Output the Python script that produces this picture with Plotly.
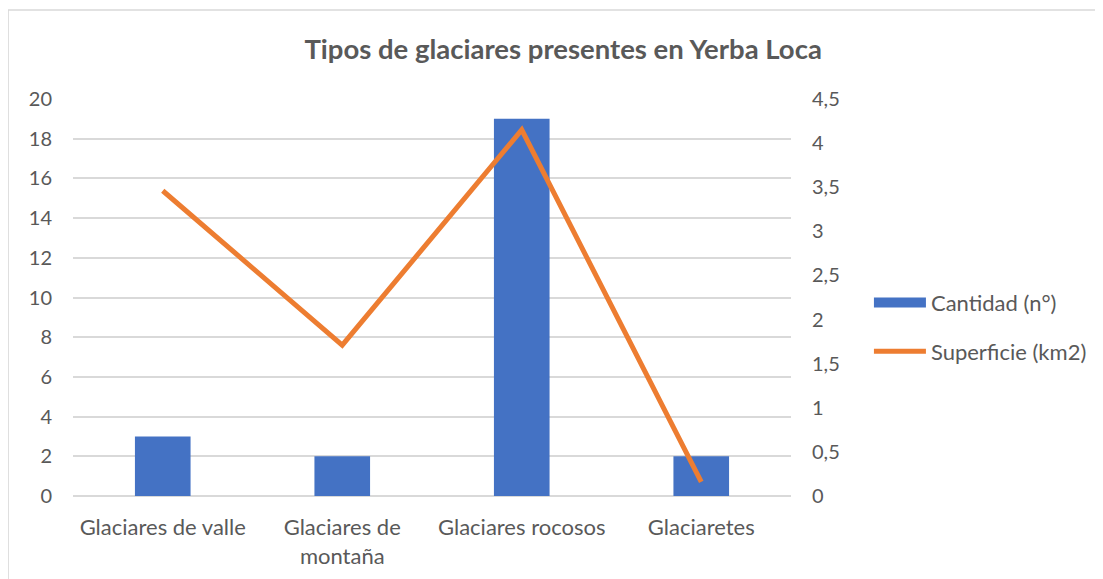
import plotly.graph_objects as go

categories = ["Glaciares de valle", "Glaciares de<br>montaña", "Glaciares rocosos", "Glaciaretes"]
cantidad = [3, 2, 19, 2]
superficie = [3.46, 1.71, 4.15, 0.16]

FONT = "Lato, Open Sans, sans-serif"
GRAY = "#595959"

fig = go.Figure()
fig.add_trace(go.Bar(x=categories, y=cantidad, name="Cantidad (n°)",
                     marker=dict(color="#4472c4", line=dict(width=0)),
                     showlegend=False))
# legend proxy (wide rectangle like the reference legend key)
fig.add_trace(go.Scatter(x=[None], y=[None], name="Cantidad (n°)", mode="lines",
                         line=dict(color="#4472c4", width=14), legendgroup="a"))
fig.add_trace(go.Scatter(x=categories, y=superficie, name="Superficie (km2)",
                         mode="lines", line=dict(color="#ed7d31", width=5),
                         yaxis="y2", legendgroup="b"))

numfont = dict(family=FONT, size=20, color=GRAY)
catfont = dict(family=FONT, size=22, color=GRAY)
fig.update_layout(
    width=1095, height=571,
    margin=dict(l=65, r=311, t=91, b=83),
    paper_bgcolor="white", plot_bgcolor="white",
    separators=",.",
    bargap=0.69,
    title=dict(text="<b>Tipos de glaciares presentes en Yerba Loca</b>",
               x=0.507, xanchor="center", xref="container", y=0.928, yanchor="middle",
               font=dict(family=FONT, size=27.5, color=GRAY)),
    xaxis=dict(tickfont=catfont, showgrid=False, showline=False, ticks="",
               ticklabelstandoff=16, domain=[0, 1], automargin=False),
    yaxis=dict(range=[0, 20], dtick=2, tickfont=numfont, gridcolor="#d9d9d9",
               gridwidth=1.5, zeroline=True, zerolinecolor="#d9d9d9", zerolinewidth=1.5,
               ticks="", showline=False, ticklabelstandoff=20, automargin=False),
    yaxis2=dict(range=[0, 4.5], dtick=0.5, overlaying="y", side="right",
                tickfont=numfont, showgrid=False, zeroline=False, ticks="", showline=False,
                ticklabelstandoff=20, automargin=False),
    legend=dict(x=1.107, y=0.425, xanchor="left", yanchor="middle",
                font=dict(family=FONT, size=22, color=GRAY),
                traceorder="grouped", tracegroupgap=17, itemwidth=52,
                bgcolor="rgba(0,0,0,0)"),
    shapes=[dict(type="rect", xref="paper", yref="paper",
                 x0=-65/719, x1=1.6, y0=-0.3, y1=(488-2)/397,
                 line=dict(color="#d9d9d9", width=1.5), layer="below")],
)

fig.write_html("out.html")
